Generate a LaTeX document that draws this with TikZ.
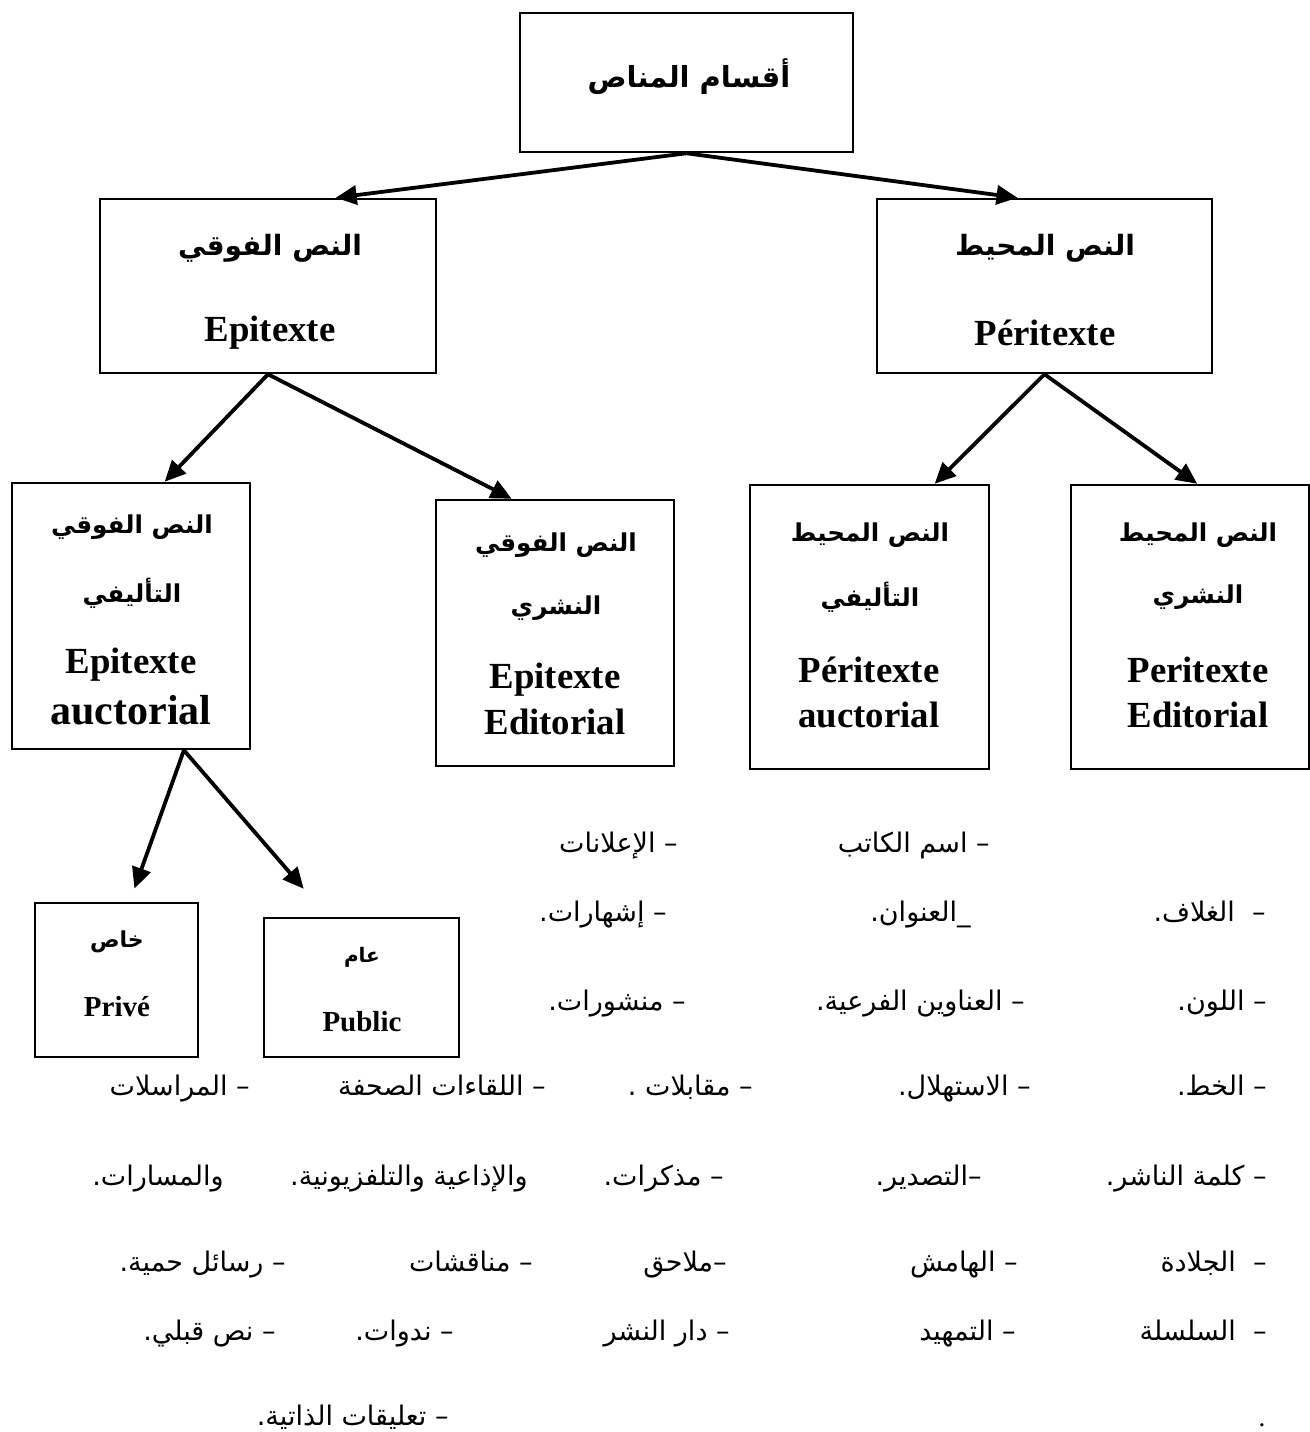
\documentclass[tikz,border=0pt]{standalone}
\usepackage{fontspec}
\setmainfont{Liberation Serif}
\newfontfamily\arabicfont[Script=Arabic]{DejaVu Sans}
\TeXXeTstate=1
\usetikzlibrary{arrows.meta,calc}
\newcommand\arab[1]{{\arabicfont\beginR #1\endR}}
\tikzset{
  box/.style={draw,line width=1.25pt,inner sep=0pt},
  arr/.style={line width=1.9pt,-{Triangle[length=10.5pt,width=9.5pt]}},
  head/.style={font=\bfseries\fontsize{14}{16}\selectfont},
  sub/.style={font=\bfseries\fontsize{12.3}{14}\selectfont},
  lat/.style={font=\bfseries\fontsize{18.4}{20}\selectfont},
  small/.style={font=\bfseries\fontsize{14.5}{16}\selectfont},
  item/.style={font=\fontsize{13.5}{15}\selectfont,inner sep=0pt,anchor=base east}
}
\begin{document}
\begin{tikzpicture}[x=0.5pt,y=-0.5pt]
\useasboundingbox (0,0) rectangle (1310,1432);

\node[box,minimum width=166.5pt,minimum height=69.5pt] (top) at (686.5,82.5) {};
\node[font=\bfseries\fontsize{14.5}{16}\selectfont] (topT) at (689,77) {\arab{أقسام المناص}};

\node[box,minimum width=168pt,minimum height=87pt] (epi) at (268,286) {};
\node[head] (epiT) at (270,248) {\arab{النص الفوقي}};
\node[lat] (epiL) at (270,333) {Epitexte};
\node[box,minimum width=167.5pt,minimum height=87pt] (peri) at (1044.5,286) {};
\node[head] (periT) at (1045,248) {\arab{النص المحيط}};
\node[lat] (periL) at (1045,333) {Péritexte};

\node[box,minimum width=119pt,minimum height=133pt] (epiA) at (131,616) {};
\node[sub] (epiA1) at (132,527) {\arab{النص الفوقي}};
\node[sub] (epiA2) at (132,593) {\arab{التأليفي}};
\node[lat] (epiA3) at (131,665) {Epitexte};
\node[lat,font=\bfseries\fontsize{21}{23}\selectfont] (epiA4) at (131,710) {auctorial};

\node[box,minimum width=119pt,minimum height=133pt] (epiE) at (555,633) {};
\node[sub] (epiE1) at (556,545) {\arab{النص الفوقي}};
\node[sub] (epiE2) at (556,608) {\arab{النشري}};
\node[lat] (epiE3) at (555,680) {Epitexte};
\node[lat] (epiE4) at (555,722) {Editorial};

\node[box,minimum width=119.5pt,minimum height=142pt] (periA) at (869.5,627) {};
\node[sub] (periA1) at (870,535) {\arab{النص المحيط}};
\node[sub] (periA2) at (870,597) {\arab{التأليفي}};
\node[lat] (periA3) at (869,670) {Péritexte};
\node[lat] (periA4) at (869,715) {auctorial};

\node[box,minimum width=119pt,minimum height=142pt] (periE) at (1190,627) {};
\node[sub] (periE1) at (1198,535) {\arab{النص المحيط}};
\node[sub] (periE2) at (1198,597) {\arab{النشري}};
\node[lat] (periE3) at (1198,670) {Peritexte};
\node[lat] (periE4) at (1198,715) {Editorial};

\node[box,minimum width=81.5pt,minimum height=77pt] (prive) at (116.5,980) {};
\node[font=\bfseries\fontsize{11}{13}\selectfont] (priveT) at (117,942) {\arab{خاص}};
\node[small] (priveL) at (117,1007) {Privé};
\node[box,minimum width=97.5pt,minimum height=69.5pt] (public) at (361.5,987.5) {};
\node[font=\bfseries\fontsize{10}{12}\selectfont] (publicT) at (362,957) {\arab{عام}};
\node[small] (publicL) at (362,1022) {Public};

\draw[arr] (top.south) -- ($(epi.north west)!.70!(epi.north east)$);
\draw[arr] (top.south) -- ($(peri.north west)!.42!(peri.north east)$);
\draw[arr] (epi.south) -- ($(epiA.north west)!.64!(epiA.north east)$);
\draw[arr] (epi.south) -- ($(epiE.north west)!.32!(epiE.north east)$);
\draw[arr] (peri.south) -- ($(periA.north west)!.77!(periA.north east)$);
\draw[arr] (peri.south) -- ($(periE.north west)!.53!(periE.north east)$);
\draw[arr,shorten >=7pt] ($(epiA.south west)!.72!(epiA.south east)$) -- ($(prive.north west)!.58!(prive.north east)$);
\draw[arr,shorten >=18.5pt] ($(epiA.south west)!.72!(epiA.south east)$) -- ($(public.north west)!.33!(public.north east)$);

\foreach \px/\py/\t [count=\i] in {
  990/852/{– اسم الكاتب}, 678/852/{– الإعلانات},
  1266/921/{–~~الغلاف.}, 971/921/{\_العنوان.}, 667/921/{– إشهارات.},
  1267/1010/{– اللون.}, 1025/1010/{– العناوين الفرعية.}, 686/1010/{– منشورات.},
  1267/1095/{– الخط.}, 1031/1095/{– الاستهلال.}, 753/1095/{– مقابلات .}, 546/1095/{– اللقاءات الصحفة}, 250/1095/{– المراسلات},
  1267/1185/{– كلمة الناشر.}, 982/1185/{–التصدير.}, 724/1185/{– مذكرات.}, 528/1185/{والإذاعية والتلفزيونية.}, 224/1185/{والمسارات.},
  1267/1271/{–~~الجلادة}, 1018/1271/{– الهامش}, 727/1271/{–ملاحق}, 533/1271/{– مناقشات}, 286/1271/{– رسائل حمية.},
  1267/1340/{–~~السلسلة}, 1016/1340/{– التمهيد}, 730/1340/{– دار النشر}, 454/1340/{– ندوات.}, 276/1340/{– نص قبلي.},
  449/1425/{– تعليقات الذاتية.}}
  \node[item] (it\i) at (\px,\py) {\arab{\t}};
\node[item,anchor=base] (dot) at (1262,1426) {.};
\end{tikzpicture}
\end{document}
